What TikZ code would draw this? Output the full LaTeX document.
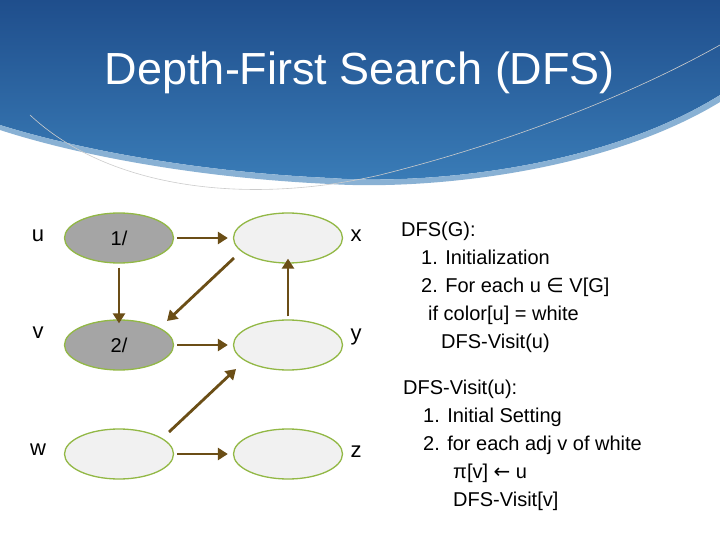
\documentclass[tikz,border=0pt]{standalone}
\usepackage{fontspec}
\setmainfont{Liberation Sans}
\newfontfamily\dejavu{DejaVu Sans}
\usetikzlibrary{arrows.meta,shapes.geometric}
\definecolor{arr}{HTML}{6B4E16}
\definecolor{edge}{HTML}{92B845}
\definecolor{light}{HTML}{F1F1F1}
\definecolor{dark}{HTML}{A5A5A5}
\definecolor{navy}{HTML}{1F4E8C}
\definecolor{mid}{HTML}{3A7DB8}
\begin{document}
\begin{tikzpicture}[x=1pt,y=-1pt,
  vert/.style={ellipse,draw=edge,line width=1.3pt,minimum width=109pt,minimum height=50pt,inner sep=0pt,font=\fontsize{20}{24}\selectfont},
  wnode/.style={vert,fill=light},
  gnode/.style={vert,fill=dark},
  lab/.style={font=\fontsize{22}{26}\selectfont},
  conn/.style={draw=arr,line width=2.8pt,-{Triangle[length=10pt,width=12pt]}},
  txt/.style={font=\fontsize{20}{28}\selectfont,align=left,anchor=north west,inner sep=0pt}]
\useasboundingbox (0,0) rectangle (720,540);
\fill[white] (0,0) rectangle (720,540);
% banner
\shade[top color=navy,bottom color=mid] (0,0) -- (720,0) -- (720,95) .. controls (600,170) and (420,185) .. (330,178) .. controls (200,172) and (80,150) .. (0,125) -- cycle;
\fill[mid!60!white] (720,95) .. controls (600,170) and (420,185) .. (330,178) .. controls (200,172) and (80,150) .. (0,125) -- (0,130) .. controls (80,156) and (200,178) .. (330,184) .. controls (420,190) and (600,175) .. (720,102) -- cycle;
\draw[gray!40,line width=0.6pt] (30,115) .. controls (110,190) and (250,205) .. (380,175) .. controls (520,140) and (640,90) .. (720,45);
\node[text=white,font=\fontsize{45}{52}\selectfont] (title) at (360,73) {Depth-First Search (DFS)};
% graph
\node[gnode] (u) at (119,238) {1/};
\node[gnode] (v) at (119,345) {2/};
\node[wnode] (w) at (119,454) {};
\node[wnode] (x) at (288,238) {};
\node[wnode] (y) at (288,345) {};
\node[wnode] (z) at (288,454) {};
\node[lab] (lu) at (38,236) {u};
\node[lab] (lv) at (38,333) {v};
\node[lab] (lw) at (38,450) {w};
\node[lab] (lx) at (356,236) {x};
\node[lab] (ly) at (356,337) {y};
\node[lab] (lz) at (356,452) {z};
\draw[conn] (u.east) ++(3,0) -- ([xshift=-5pt]x.west);
\draw[conn] (u.south) ++(0,4) -- ([yshift=-4pt]v.north);
\draw[conn] ([shift={(-54,20)}]x.center) -- ([shift={(48,-24)}]v.center);
\draw[conn] (v.east) ++(3,0) -- ([xshift=-5pt]y.west);
\draw[conn] ([shift={(50,-22)}]w.center) -- ([shift={(-52,24)}]y.center);
\draw[conn] (y.north) ++(0,-3) -- ([yshift=5pt]x.south);
\draw[conn] (w.east) ++(3,0) -- ([xshift=-5pt]z.west);
% text
\node[txt] (t1) at (401,222) {DFS(G):\\
\quad 1. Initialization\\
\quad 2. For each u {\dejavu ∈} V[G]\\
\hspace*{1.35em}if color[u] = white\\
\hspace*{2em}DFS-Visit(u)};
\node[txt] (t2) at (403,380) {DFS-Visit(u):\\
\quad 1. Initial Setting\\
\quad 2. for each adj v of white\\
\hspace*{2.5em}π[v] {\dejavu ←} u\\
\hspace*{2.5em}DFS-Visit[v]};
\end{tikzpicture}
\end{document}
